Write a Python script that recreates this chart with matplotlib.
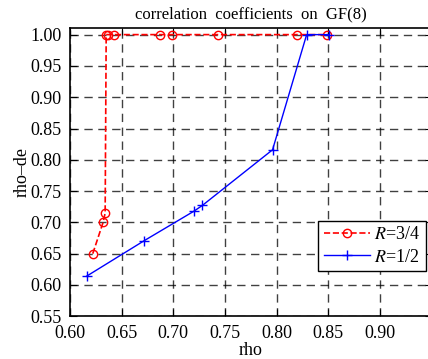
import matplotlib.pyplot as plt

plt.rcParams['font.family'] = 'Liberation Serif'
plt.rcParams['mathtext.fontset'] = 'stix'

# R=3/4 series
rho_34 = [0.622, 0.632, 0.634, 0.635, 0.637, 0.643, 0.687, 0.699, 0.743, 0.820, 0.849]
rhode_34 = [0.650, 0.700, 0.715, 1.000, 1.000, 1.000, 1.000, 1.000, 1.000, 1.000, 1.000]

# R=1/2 series
rho_12 = [0.616, 0.672, 0.720, 0.728, 0.796, 0.829, 0.851]
rhode_12 = [0.614, 0.671, 0.718, 0.727, 0.816, 1.000, 1.000]

xticks = [0.60, 0.65, 0.70, 0.75, 0.80, 0.85, 0.90]
yticks = [0.55, 0.60, 0.65, 0.70, 0.75, 0.80, 0.85, 0.90, 0.95, 1.00]

fig = plt.figure(figsize=(4.28, 3.59), dpi=100)
ax = fig.add_axes([0.1636, 0.119, 0.845, 0.802])

ax.plot(rho_34, rhode_34, color='red', linestyle='--', marker='o', markersize=6,
        markerfacecolor='none', markeredgecolor='red', linewidth=1.2, label='$R$=3/4', zorder=3)
ax.plot(rho_12, rhode_12, color='blue', linestyle='-', marker='+', markersize=7,
        linewidth=1.0, label='$R$=1/2', zorder=3)

ax.set_xlim(0.60, 0.95)
ax.set_ylim(0.55, 1.01)
ax.set_xticks(xticks)
ax.set_yticks(yticks)
ax.set_xticklabels([f'{v:.2f}' for v in xticks])
ax.set_yticklabels([f'{v:.2f}' for v in yticks])
ax.tick_params(direction='in', length=5, labelsize=13, top=True, right=True, pad=6)
ax.grid(True, color='black', linestyle=(0, (6, 4)), linewidth=1.0, alpha=0.75)

for s in ax.spines.values():
    s.set_linewidth(1.2)

ax.set_title('correlation  coefficients  on  GF(8)', fontsize=12, pad=7)
ax.set_xlabel('rho', fontsize=13, labelpad=0)
ax.set_ylabel('rho\u2013de', fontsize=13, labelpad=0)

leg = ax.legend(loc='upper left', bbox_to_anchor=(0.686, 0.332), fontsize=13,
                fancybox=False, edgecolor='black', framealpha=1,
                handlelength=2.6, borderpad=0.3, labelspacing=0.3, handletextpad=0.2,
                borderaxespad=0)
leg.get_frame().set_linewidth(1.0)

fig.savefig('out.png', dpi=100)
